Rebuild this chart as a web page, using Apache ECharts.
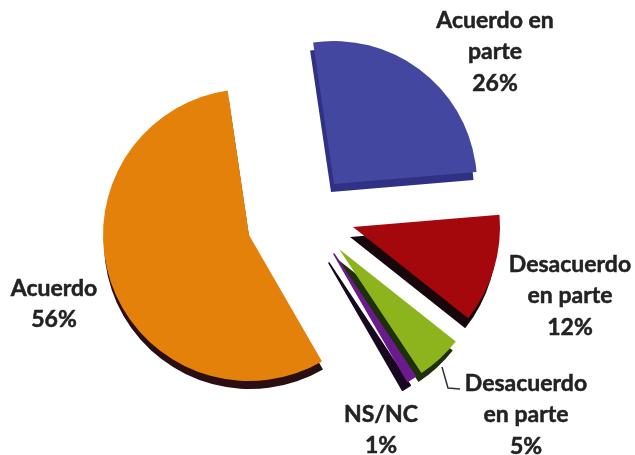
<!DOCTYPE html>
<html><head><meta charset="utf-8">
<style>html,body{margin:0;padding:0;background:#fff}#c{width:635px;height:455px}</style>
<script src="https://cdn.jsdelivr.net/npm/echarts@6/dist/echarts.min.js"></script>
</head><body><div id="c"></div>
<script>
const categories = ['Acuerdo en parte','Desacuerdo en parte','Desacuerdo en parte','NS/NC','Acuerdo'];
const values = [26,12,5,1,56];
const faceColors = ['#44479f','#a4080c','#8db31d','#6b1a8e','#e4810b'];
const sideColors = ['#2f3184','#17060a','#1d3008','#17081f','#2a0e12'];
const centers = [[334,184],[353,227],[339,249],[334,254],[249,235]];
const radii = [143,147,149,147,146];
const sideOffsets = [[-3,8],[-3,10],[-3,9],[-5,9],[1,8]];
const sliceBorders = [0,0,0,1.5,0];
const labelCenters = [[495,52],[570,296],[526,415],[381,430],[54,304]];
const labelTexts = ['Acuerdo en\nparte\n26%','Desacuerdo\nen parte\n12%','Desacuerdo\nen parte\n5%','NS/NC\n1%','Acuerdo\n56%'];

const pieData = (k, colors, withLabel) => categories.map((name,i)=>({
  name: name+'#'+i, value: values[i],
  itemStyle: i===k ? {color:colors[k],borderColor:colors[k],borderWidth:sliceBorders[k]} : {color:'rgba(0,0,0,0)',borderWidth:0},
  label: {show: withLabel && i===k}
}));
const series = [];
categories.forEach((_,k)=>{
  series.push({type:'pie',silent:true,animation:false,clockwise:true,startAngle:98.4,
    z:1,radius:[0,radii[k]],
    center:[centers[k][0]+sideOffsets[k][0],centers[k][1]+sideOffsets[k][1]],
    label:{show:false},labelLine:{show:false},data:pieData(k,sideColors,false)});
});
categories.forEach((_,k)=>{
  series.push({type:'pie',silent:true,animation:false,clockwise:true,startAngle:98.4,
    z:2,radius:[0,radii[k]],center:centers[k],
    labelLine:{show:false},
    label:{position:'outside',overflow:'none',formatter:()=>labelTexts[k],fontFamily:'Lato',fontWeight:'bold',fontSize:23,lineHeight:31.5,color:'#222',textBorderColor:'#222',textBorderWidth:0.5,align:'center',verticalAlign:'middle'},
    labelLayout:()=>({x:labelCenters[k][0],y:labelCenters[k][1],align:'center',verticalAlign:'middle',hideOverlap:false}),
    data:pieData(k,faceColors,true)});
});
const chart = echarts.init(document.getElementById('c'),null,{renderer:'canvas'});
chart.setOption({
  backgroundColor:'#fff',animation:false,series,
  graphic:[{type:'polyline',z:5,shape:{points:[[442,367],[448,388],[460,389]]},style:{stroke:'#333',lineWidth:1.5,fill:null}}]
});
</script></body></html>
